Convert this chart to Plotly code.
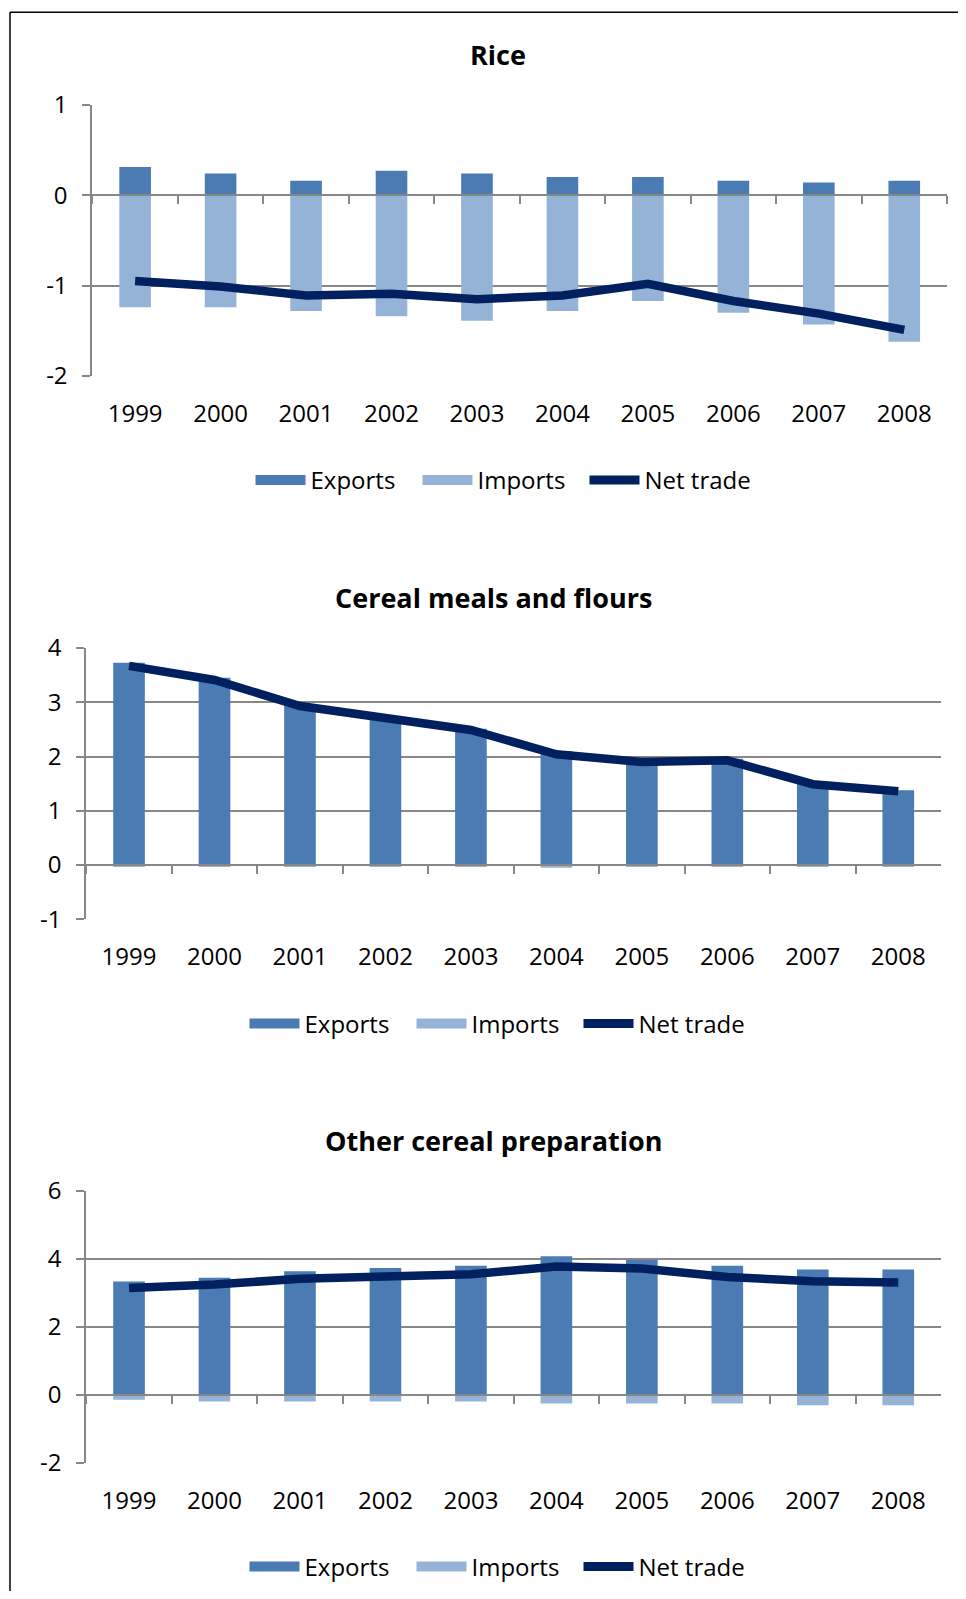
import plotly.graph_objects as go

years = ["1999", "2000", "2001", "2002", "2003", "2004", "2005", "2006", "2007", "2008"]

titles = ["Rice", "Cereal meals and flours", "Other cereal preparation"]

rice_exports = [0.31, 0.24, 0.16, 0.27, 0.24, 0.20, 0.20, 0.16, 0.14, 0.16]
rice_imports = [-1.24, -1.24, -1.28, -1.34, -1.39, -1.28, -1.17, -1.30, -1.43, -1.62]
rice_net = [-0.95, -1.01, -1.11, -1.09, -1.15, -1.11, -0.98, -1.17, -1.31, -1.49]

meal_exports = [3.73, 3.45, 2.96, 2.74, 2.51, 2.10, 1.92, 1.96, 1.51, 1.38]
meal_imports = [-0.02, -0.02, -0.02, -0.02, -0.02, -0.05, -0.02, -0.02, -0.02, -0.02]
meal_net = [3.67, 3.41, 2.93, 2.71, 2.49, 2.04, 1.90, 1.93, 1.49, 1.36]

prep_exports = [3.33, 3.44, 3.63, 3.73, 3.79, 4.07, 3.96, 3.79, 3.68, 3.68]
prep_imports = [-0.15, -0.20, -0.20, -0.20, -0.20, -0.26, -0.26, -0.26, -0.31, -0.31]
prep_net = [3.14, 3.24, 3.41, 3.48, 3.54, 3.77, 3.71, 3.46, 3.34, 3.30]

rice_ticks = [1, 0, -1, -2]
rice_ticktext = ["1", "0", "-1", "-2"]
meal_ticks = [4, 3, 2, 1, 0, -1]
meal_ticktext = ["4", "3", "2", "1", "0", "-1"]
prep_ticks = [6, 4, 2, 0, -2]
prep_ticktext = ["6", "4", "2", "0", "-2"]

series_names = ["Exports", "Imports", "Net trade"]

# page is 966x1599; the html body has an 8px margin, so the figure is offset by 8px
PAGE_W, PAGE_H = 966, 1599
OFF = 8
W, H = PAGE_W - 2 * OFF, PAGE_H - 2 * OFF
C_EXP = "#4A7BB3"
C_IMP = "#95B3D7"
C_NET = "#002060"
GRID = "#878787"
FONT = "Open Sans"
TXT = "#000000"
TICK_SIZE = 24


def fx(px):
    return (px - OFF) / W


def fy(py):
    return 1 - (py - OFF) / H


panels = [
    dict(exp=rice_exports, imp=rice_imports, net=rice_net, ticks=rice_ticks, ticktext=rice_ticktext,
         yr=[-2, 1], px_x=(92.4, 947), px_y=(104.7, 376), title_y=54, title_x=498, leg_y=480.5, leg_x=501),
    dict(exp=meal_exports, imp=meal_imports, net=meal_net, ticks=meal_ticks, ticktext=meal_ticktext,
         yr=[-1, 4], px_x=(86.3, 941), px_y=(648, 919.3), title_y=597, title_x=493, leg_y=1024, leg_x=495),
    dict(exp=prep_exports, imp=prep_imports, net=prep_net, ticks=prep_ticks, ticktext=prep_ticktext,
         yr=[-2, 6], px_x=(86.3, 941), px_y=(1190.7, 1462.7), title_y=1140.5, title_x=493, leg_y=1567, leg_x=495),
]

fig = go.Figure()
layout = dict(
    width=W, height=H, margin=dict(l=0, r=0, t=0, b=0, autoexpand=False),
    paper_bgcolor="white", plot_bgcolor="white",
    barmode="relative", bargap=0.63, showlegend=True,
    font=dict(family=FONT, size=TICK_SIZE, color=TXT),
    annotations=[], shapes=[],
)

for i, p in enumerate(panels):
    n = i + 1
    xa = f"x{2*i+1}" if i > 0 else "x"
    xb = f"x{2*i+2}"
    ya = f"y{n}" if i > 0 else "y"
    xa_key = "xaxis" if i == 0 else f"xaxis{2*i+1}"
    xb_key = f"xaxis{2*i+2}"
    ya_key = "yaxis" if i == 0 else f"yaxis{n}"
    leg = "legend" if i == 0 else f"legend{n}"

    fig.add_trace(go.Bar(x=years, y=p["exp"], name=series_names[0], marker=dict(color=C_EXP, line=dict(width=0)),
                         xaxis=xa, yaxis=ya, showlegend=False))
    fig.add_trace(go.Bar(x=years, y=p["imp"], name=series_names[1], marker=dict(color=C_IMP, line=dict(width=0)),
                         xaxis=xa, yaxis=ya, showlegend=False))
    fig.add_trace(go.Scatter(x=years, y=p["net"], name=series_names[2], mode="lines",
                             line=dict(color=C_NET, width=8.5, shape="linear"),
                             xaxis=xb, yaxis=ya, showlegend=False))
    # legend entries
    for nm, col, w in [(series_names[0], C_EXP, 11), (series_names[1], C_IMP, 11), (series_names[2], C_NET, 9)]:
        fig.add_trace(go.Scatter(x=[None], y=[None], mode="lines", name=nm, line=dict(color=col, width=w),
                                 xaxis=xa, yaxis=ya, legend=leg, showlegend=True))

    x0, x1 = p["px_x"]
    ytop, ybot = p["px_y"]
    dom_x = [fx(x0), fx(x1)]
    dom_y = [fy(ybot), fy(ytop)]
    ymin, ymax = p["yr"]
    zero_pos = dom_y[0] + (0 - ymin) / (ymax - ymin) * (dom_y[1] - dom_y[0])

    layout[xa_key] = dict(domain=dom_x, anchor=ya, type="category", range=[-0.5, 9.5], automargin=False,
                          showline=False, showgrid=False, ticks="", zeroline=False,
                          tickfont=dict(family=FONT, size=TICK_SIZE, color=TXT), ticklabelstandoff=21)
    layout[xb_key] = dict(domain=dom_x, overlaying=xa, anchor="free", position=zero_pos, automargin=False,
                          type="category", range=[-0.5, 9.5], showline=True, linecolor=GRID, linewidth=2,
                          ticks="outside", tickson="boundaries", ticklen=8, tickwidth=1.5, tickcolor=GRID,
                          showticklabels=False, showgrid=False, zeroline=False)
    layout[ya_key] = dict(domain=dom_y, anchor=xa, range=[ymin, ymax], tickvals=p["ticks"], ticktext=p["ticktext"],
                          automargin=False,
                          showline=True, linecolor=GRID, linewidth=2, ticks="outside", ticklen=8, tickwidth=1.5,
                          tickcolor=GRID, showgrid=True, gridcolor=GRID, gridwidth=2, zeroline=False,
                          tickfont=dict(family=FONT, size=TICK_SIZE, color=TXT), ticklabelstandoff=10)
    layout[leg] = dict(orientation="h", x=fx(p["leg_x"]), xanchor="center", y=fy(p["leg_y"]), yanchor="middle",
                       font=dict(family=FONT, size=TICK_SIZE, color=TXT), itemwidth=50, entrywidth=102,
                       bgcolor="rgba(0,0,0,0)", traceorder="normal", tracegroupgap=0, itemclick=False)
    layout["annotations"].append(dict(text=f"<b>{titles[i]}</b>", x=fx(p["title_x"]), y=fy(p["title_y"]),
                                      xref="paper", yref="paper", xanchor="center", yanchor="middle",
                                      showarrow=False, font=dict(family=FONT, size=27, color=TXT)))

# outer frame (top and left edges visible)
layout["shapes"].append(dict(type="line", xref="paper", yref="paper", x0=fx(10), x1=1.0, y0=fy(12.3), y1=fy(12.3),
                             line=dict(color="black", width=1.5)))
layout["shapes"].append(dict(type="line", xref="paper", yref="paper", x0=fx(10), x1=fx(10), y0=0, y1=fy(12.3),
                             line=dict(color="black", width=1.5)))

fig.update_layout(**layout)
fig.write_html("out.html")
